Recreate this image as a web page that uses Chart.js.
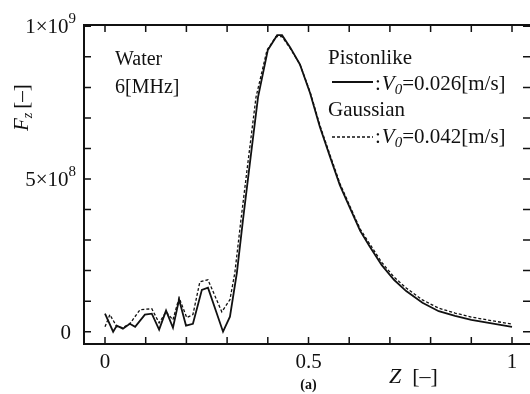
<!DOCTYPE html>
<html>
<head>
<meta charset="utf-8">
<script src="https://cdn.jsdelivr.net/npm/chart.js@4/dist/chart.umd.min.js"></script>
<style>
  html, body { margin: 0; padding: 0; background: #fff; }
  #wrap { width: 530px; height: 394px; position: relative; }
</style>
</head>
<body>
<div id="wrap"><canvas id="chart"></canvas></div>
<script>
// Pistonlike (solid) : Z and axial force F_z
const pistonZ = [0, 0.020, 0.029, 0.044, 0.061, 0.074, 0.098, 0.115, 0.133, 0.150, 0.167, 0.182, 0.199, 0.216,
    0.238, 0.253, 0.290, 0.307, 0.324, 0.339, 0.356, 0.376, 0.400, 0.423, 0.435, 0.455, 0.479, 0.504, 0.528,
    0.553, 0.577, 0.602, 0.627, 0.65, 0.68, 0.71, 0.74, 0.78, 0.82, 0.86, 0.90, 0.95, 1.0];
const pistonF = [0.59e8, 0.0, 0.20e8, 0.10e8, 0.26e8, 0.16e8, 0.56e8, 0.59e8, 0.07e8, 0.69e8, 0.13e8, 1.05e8, 0.20e8, 0.26e8,
    1.37e8, 1.44e8, 0.0, 0.49e8, 1.93e8, 3.66e8, 5.52e8, 7.68e8, 9.22e8, 9.71e8, 9.71e8, 9.31e8, 8.75e8, 7.81e8, 6.70e8,
    5.72e8, 4.80e8, 4.05e8, 3.30e8, 2.80e8, 2.18e8, 1.70e8, 1.33e8, 0.95e8, 0.67e8, 0.52e8, 0.39e8, 0.27e8, 0.16e8];

// Gaussian (dashed)
const gaussZ = [0, 0.012, 0.029, 0.044, 0.061, 0.086, 0.115, 0.133, 0.150, 0.167, 0.182, 0.201, 0.216, 0.233,
    0.253, 0.287, 0.307, 0.319, 0.334, 0.351, 0.371, 0.398, 0.420, 0.435, 0.455, 0.479, 0.504, 0.528, 0.553,
    0.577, 0.602, 0.627, 0.65, 0.68, 0.71, 0.74, 0.78, 0.82, 0.86, 0.90, 0.95, 1.0];
const gaussF = [0.16e8, 0.56e8, 0.16e8, 0.13e8, 0.26e8, 0.72e8, 0.75e8, 0.29e8, 0.65e8, 0.39e8, 1.11e8, 0.46e8, 0.56e8, 1.63e8,
    1.70e8, 0.65e8, 1.05e8, 1.93e8, 3.66e8, 5.52e8, 7.68e8, 9.22e8, 9.66e8, 9.66e8, 9.28e8, 8.75e8, 7.85e8, 6.76e8, 5.78e8,
    4.86e8, 4.10e8, 3.36e8, 2.88e8, 2.27e8, 1.79e8, 1.43e8, 1.04e8, 0.77e8, 0.61e8, 0.48e8, 0.36e8, 0.25e8];

const zTicks = [0, 0.1, 0.2, 0.3, 0.4, 0.5, 0.6, 0.7, 0.8, 0.9, 1.0];
const zLabels = [{ v: 0, t: '0' }, { v: 0.5, t: '0.5' }, { v: 1, t: '1' }];
const fTicks = [0, 1e8, 2e8, 3e8, 4e8, 5e8, 6e8, 7e8, 8e8, 9e8, 1e9];
const fLabels = [{ v: 0, t: '0', e: '' }, { v: 5e8, t: '5×10', e: '8' }, { v: 1e9, t: '1×10', e: '9' }];

const SERIF = '"Liberation Serif", "Times New Roman", serif';
const INK = '#111';

function font(size, style) {
    return (style ? style + ' ' : '') + size + 'px ' + SERIF;
}

// draw a row of text runs (for sub/superscripts), returns end x
function drawRuns(ctx, x, y, runs) {
    runs.forEach(r => {
        ctx.font = r.font;
        ctx.fillText(r.t, x, y + (r.dy || 0));
        x += ctx.measureText(r.t).width + (r.gap || 0);
    });
    return x;
}

function runsWidth(ctx, runs) {
    let w = 0;
    runs.forEach(r => { ctx.font = r.font; w += ctx.measureText(r.t).width + (r.gap || 0); });
    return w;
}

const framePlugin = {
    id: 'frame',
    afterDraw(chart) {
        const { ctx, chartArea: a, scales: { x, y } } = chart;
        ctx.save();
        ctx.strokeStyle = INK;
        ctx.fillStyle = INK;

        // box (right edge falls outside the picture)
        ctx.lineWidth = 2;
        ctx.beginPath();
        ctx.moveTo(a.right, a.top);
        ctx.lineTo(a.left, a.top);
        ctx.lineTo(a.left, a.bottom);
        ctx.lineTo(a.right, a.bottom);
        ctx.stroke();

        // inward ticks on all sides
        const len = 7;
        ctx.lineWidth = 1.5;
        ctx.beginPath();
        zTicks.forEach(v => {
            const px = x.getPixelForValue(v);
            ctx.moveTo(px, a.bottom); ctx.lineTo(px, a.bottom - len);
            ctx.moveTo(px, a.top); ctx.lineTo(px, a.top + len);
        });
        fTicks.forEach(v => {
            const py = y.getPixelForValue(v);
            ctx.moveTo(a.left, py); ctx.lineTo(a.left + len, py);
            ctx.moveTo(a.right, py); ctx.lineTo(a.right - len, py);
        });
        ctx.stroke();

        // x tick labels
        ctx.font = font(21);
        ctx.textAlign = 'center';
        ctx.textBaseline = 'middle';
        zLabels.forEach(l => ctx.fillText(l.t, x.getPixelForValue(l.v), a.bottom + 18));

        // y tick labels with superscript exponent
        ctx.textAlign = 'left';
        ctx.textBaseline = 'alphabetic';
        fLabels.forEach(l => {
            const py = y.getPixelForValue(l.v);
            const runs = [{ t: l.t, font: font(21) }];
            if (l.e) runs.push({ t: l.e, font: font(15), dy: -10 });
            const right = l.e ? a.left - 8 : a.left - 13;
            drawRuns(ctx, right - runsWidth(ctx, runs), py + 7, runs);
        });

        // y axis title: F_z [-]
        ctx.save();
        ctx.translate(a.left - 56, 131);
        ctx.rotate(-Math.PI / 2);
        drawRuns(ctx, 0, 0, [
            { t: 'F', font: font(21, 'italic') },
            { t: 'z', font: font(14, 'italic'), dy: 4, gap: 4 },
            { t: '[–]', font: font(21) }
        ]);
        ctx.restore();

        // x axis title: Z [-]
        drawRuns(ctx, 389, 383, [
            { t: 'Z', font: font(22, 'italic'), gap: 11 },
            { t: '[–]', font: font(22) }
        ]);
        ctx.font = font(14, 'bold');
        ctx.textAlign = 'center';
        ctx.fillText('(a)', x.getPixelForValue(0.5), 389);
        ctx.textAlign = 'left';

        // annotation
        ctx.font = font(20);
        ctx.fillText('Water', 115, 65);
        ctx.fillText('6[MHz]', 115, 93);

        // legend
        ctx.font = font(21);
        ctx.fillText('Pistonlike', 328, 64);
        ctx.fillText('Gaussian', 328, 116);
        ctx.lineWidth = 2;
        ctx.beginPath();
        ctx.moveTo(332, 82); ctx.lineTo(373, 82);
        ctx.stroke();
        ctx.lineWidth = 1.3;
        ctx.setLineDash([3, 2]);
        ctx.beginPath();
        ctx.moveTo(332, 137); ctx.lineTo(373, 137);
        ctx.stroke();
        ctx.setLineDash([]);
        const vRuns = val => [
            { t: ':', font: font(21), gap: 1 },
            { t: 'V', font: font(21, 'italic') },
            { t: '0', font: font(15, 'italic'), dy: 4 },
            { t: '=' + val + '[m/s]', font: font(21) }
        ];
        drawRuns(ctx, 375, 90, vRuns('0.026'));
        drawRuns(ctx, 375, 143, vRuns('0.042'));
        ctx.restore();
    }
};

const toPoints = (zs, fs) => zs.map((z, i) => ({ x: z, y: fs[i] }));

new Chart(document.getElementById('chart'), {
    type: 'line',
    data: {
        datasets: [
            {
                label: 'Pistonlike',
                data: toPoints(pistonZ, pistonF),
                borderColor: INK,
                borderWidth: 1.8,
                pointRadius: 0,
                tension: 0
            },
            {
                label: 'Gaussian',
                data: toPoints(gaussZ, gaussF),
                borderColor: INK,
                borderWidth: 1.3,
                borderDash: [3, 2],
                pointRadius: 0,
                tension: 0
            }
        ]
    },
    options: {
        responsive: true,
        maintainAspectRatio: false,
        animation: false,
        devicePixelRatio: 1,
        layout: { padding: { left: 84, top: 25, right: 0, bottom: 50 } },
        plugins: {
            legend: { display: false },
            tooltip: { enabled: false }
        },
        scales: {
            x: { type: 'linear', min: -0.0516, max: 1.0442, display: false },
            y: { type: 'linear', min: -4.03e7, max: 1.0043e9, display: false }
        }
    },
    plugins: [framePlugin]
});
</script>
</body>
</html>
